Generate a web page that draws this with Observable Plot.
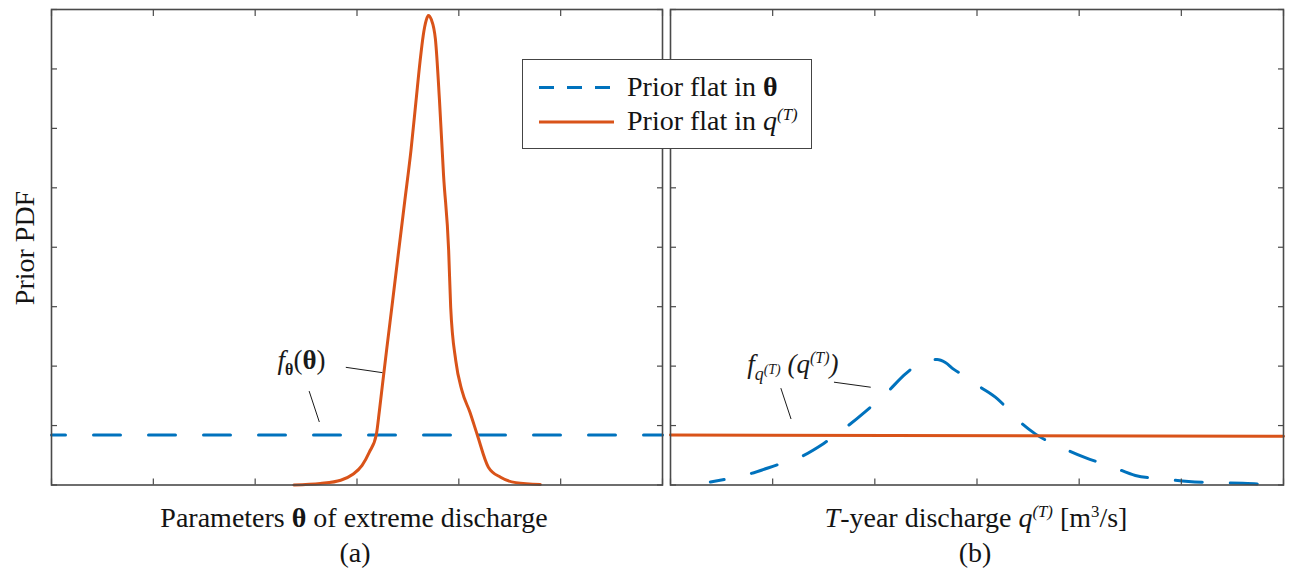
<!DOCTYPE html>
<html><head><meta charset="utf-8">
<script src="https://cdn.jsdelivr.net/npm/d3@7"></script>
<script src="https://cdn.jsdelivr.net/npm/@observablehq/plot@0.6"></script>
<style>
html,body{margin:0;padding:0;background:#fff;}
#wrap{position:relative;width:1289px;height:573px;overflow:hidden;font-family:"Liberation Serif","Times New Roman",serif;color:#141414;}
.abs{position:absolute;white-space:nowrap;line-height:1;}
#wrap svg.plot{position:absolute;top:0;}
sup.s{font-size:0.6em;vertical-align:0.6em;line-height:0;}
</style></head><body><div id="wrap"></div>
<script>
const BLUE = "#0072BD", ORANGE = "#D95319", AXIS = "#4a4a4a", INK = "#1a1a1a";

// ---- data (x in abstract units 0..6, y = prior PDF in abstract units 0..8) ----
const xTicks = [0, 1, 2, 3, 4, 5, 6];
const yTicks = [0, 1, 2, 3, 4, 5, 6, 7, 8];

// Panel (a): prior flat in theta (blue dashed)
const aFlatThetaX = [0, 6];
const aFlatThetaY = [0.84, 0.84];
// Panel (a): prior flat in q(T), induced on theta (orange)
const aFlatQX = [2.38, 2.64, 2.84, 2.96, 3.05, 3.12, 3.19, 3.22, 3.255, 3.29, 3.35, 3.41, 3.47, 3.53, 3.58, 3.62, 3.65, 3.68, 3.70, 3.73, 3.77, 3.81, 3.85, 3.90, 3.92, 3.97, 4.03, 4.11, 4.18, 4.29, 4.41, 4.56, 4.80];
const aFlatQY = [0.00, 0.025, 0.08, 0.18, 0.33, 0.55, 0.85, 1.25, 1.76, 2.26, 3.10, 3.95, 4.79, 5.63, 6.47, 7.14, 7.56, 7.82, 7.90, 7.83, 7.50, 6.47, 5.21, 3.95, 2.99, 2.09, 1.59, 1.22, 0.85, 0.30, 0.13, 0.04, 0.01];

// Panel (b): prior flat in q(T) (orange)
const bFlatQX = [0, 6];
const bFlatQY = [0.84, 0.82];
// Panel (b): prior flat in theta, induced on q(T) (blue dashed)
const bFlatThetaX = [0.39, 0.78, 1.03, 1.27, 1.50, 1.71, 1.91, 2.12, 2.30, 2.45, 2.55, 2.61, 2.69, 2.77, 2.90, 3.03, 3.20, 3.39, 3.57, 3.83, 4.06, 4.32, 4.55, 4.83, 5.07, 5.35, 5.60, 5.89, 6.00];
const bFlatThetaY = [0.05, 0.19, 0.33, 0.47, 0.70, 0.96, 1.24, 1.56, 1.87, 2.06, 2.11, 2.11, 2.06, 1.95, 1.81, 1.65, 1.45, 1.11, 0.86, 0.63, 0.46, 0.31, 0.16, 0.10, 0.06, 0.04, 0.03, 0.01, 0.01];

// annotation anchors and leader lines (data units)
const annA = [{x: 2.22, y: 1.95, key: "A"}];
const leadersA = [{x1: 2.89, y1: 1.98, x2: 3.25, y2: 1.89}, {x1: 2.53, y1: 1.58, x2: 2.63, y2: 1.06}];
const annB = [{x: 0.75, y: 1.89, key: "B"}];
const leadersB = [{x1: 1.60, y1: 1.73, x2: 1.96, y2: 1.645}, {x1: 1.08, y1: 1.63, x2: 1.18, y2: 1.11}];

const rows = (xs, ys) => xs.map((x, i) => ({x, y: ys[i]}));

function frameMarks() {
  const o = {tickFormat: () => "", label: null, stroke: AXIS, strokeWidth: 1.2, tickSize: -6};
  return [
    Plot.frame({stroke: AXIS, strokeWidth: 1.6}),
    Plot.axisX(xTicks, {...o, anchor: "bottom"}),
    Plot.axisX(xTicks, {...o, anchor: "top"}),
    Plot.axisY(yTicks, {...o, anchor: "left"}),
    Plot.axisY(yTicks, {...o, anchor: "right"})
  ];
}

function panel(width, marginLeft, marginRight, marks) {
  return Plot.plot({
    width, height: 573, marginLeft, marginRight, marginTop: 9, marginBottom: 88.5,
    x: {domain: [0, 6]}, y: {domain: [0, 8]},
    style: {background: "transparent", overflow: "visible", fontFamily: "Liberation Serif, serif"},
    marks: [...marks, ...frameMarks()]
  });
}

const txtOpts = {x: "x", y: "y", text: "key", textAnchor: "start", lineAnchor: "bottom", fontSize: 27, fill: INK};

const plotA = panel(666, 51, 4, [
  Plot.line(rows(aFlatThetaX, aFlatThetaY), {x: "x", y: "y", stroke: BLUE, strokeWidth: 3, strokeDasharray: "27,28", strokeDashoffset: 13}),
  Plot.line(rows(aFlatQX, aFlatQY), {x: "x", y: "y", stroke: ORANGE, strokeWidth: 3, curve: "monotone-x"}),
  Plot.link(leadersA, {x1: "x1", y1: "y1", x2: "x2", y2: "y2", stroke: INK, strokeWidth: 1}),
  Plot.text(annA, txtOpts)
]);
const plotB = panel(623, 4, 6, [
  Plot.line(rows(bFlatThetaX, bFlatThetaY), {x: "x", y: "y", stroke: BLUE, strokeWidth: 3, strokeDasharray: "27,28", strokeDashoffset: 13, curve: "monotone-x"}),
  Plot.line(rows(bFlatQX, bFlatQY), {x: "x", y: "y", stroke: ORANGE, strokeWidth: 3}),
  Plot.link(leadersB, {x1: "x1", y1: "y1", x2: "x2", y2: "y2", stroke: INK, strokeWidth: 1}),
  Plot.text(annB, txtOpts)
]);

plotA.classList.add("plot"); plotB.classList.add("plot");
plotA.style.left = "0px"; plotB.style.left = "666px";
const wrap = document.getElementById("wrap");
wrap.appendChild(plotA); wrap.appendChild(plotB);

// rich text for annotations
function rich(svg, key, parts) {
  d3.select(svg).selectAll("text").filter(function () { return this.textContent === key; }).each(function () {
    const t = d3.select(this); t.text(null);
    for (const p of parts) {
      const s = t.append("tspan").text(p.t);
      if (p.i) s.attr("font-style", "italic");
      if (p.b) s.attr("font-weight", "bold");
      if (p.fs) s.attr("font-size", p.fs);
      if (p.dy) s.attr("dy", p.dy);
    }
  });
}
rich(plotA, "A", [{t: "f", i: 1}, {t: "θ", b: 1, fs: 16, dy: 6}, {t: "(", dy: -6}, {t: "θ", b: 1}, {t: ")"}]);
rich(plotB, "B", [{t: "f", i: 1}, {t: "q", i: 1, fs: 18, dy: 7}, {t: "(T)", i: 1, fs: 14, dy: -6}, {t: " (", i: 1, dy: -1}, {t: "q", i: 1}, {t: "(T)", i: 1, fs: 16, dy: -10}, {t: ")", i: 1, dy: 10}]);

// HTML labels
function label(html, cx, baseline, size, extra = "") {
  const d = document.createElement("div");
  d.className = "abs";
  d.innerHTML = html;
  d.style.fontSize = size + "px";
  d.style.left = cx + "px";
  d.style.top = (baseline - 0.837 * size) + "px";
  d.style.transform = "translateX(-50%)" + extra;
  wrap.appendChild(d);
  return d;
}
label("Parameters <b>θ</b> of extreme discharge", 354, 527, 28);
label("(a)", 355, 562, 28);
label("<i>T</i>-year discharge <i>q</i><sup class='s'><i>(T)</i></sup> [m<sup class='s'>3</sup>/s]", 976, 527, 28);
label("(b)", 975, 562, 28);
const yl = document.createElement("div");
yl.className = "abs"; yl.textContent = "Prior PDF"; yl.style.fontSize = "28px";
yl.style.left = "25px"; yl.style.top = "248px";
yl.style.transform = "translate(-50%,-50%) rotate(-90deg)";
wrap.appendChild(yl);

// legend
const lg = document.createElement("div");
lg.className = "abs";
Object.assign(lg.style, {left: "522px", top: "59px", width: "288px", height: "88px", border: "1.5px solid #444", background: "#fff"});
lg.innerHTML = `
<svg width="288" height="88" style="position:absolute;left:0;top:0">
  <line x1="16" x2="90" y1="27.5" y2="27.5" stroke="${BLUE}" stroke-width="3" stroke-dasharray="15,13"/>
  <line x1="16" x2="91" y1="62" y2="62" stroke="${ORANGE}" stroke-width="3"/>
</svg>
<div class="abs" style="left:104px;top:${36 - 0.837*28}px;font-size:28px">Prior flat in <b>θ</b></div>
<div class="abs" style="left:104px;top:${70.3 - 0.837*28}px;font-size:28px">Prior flat in <i>q</i><sup class='s'><i>(T)</i></sup></div>`;
wrap.appendChild(lg);
</script></body></html>
